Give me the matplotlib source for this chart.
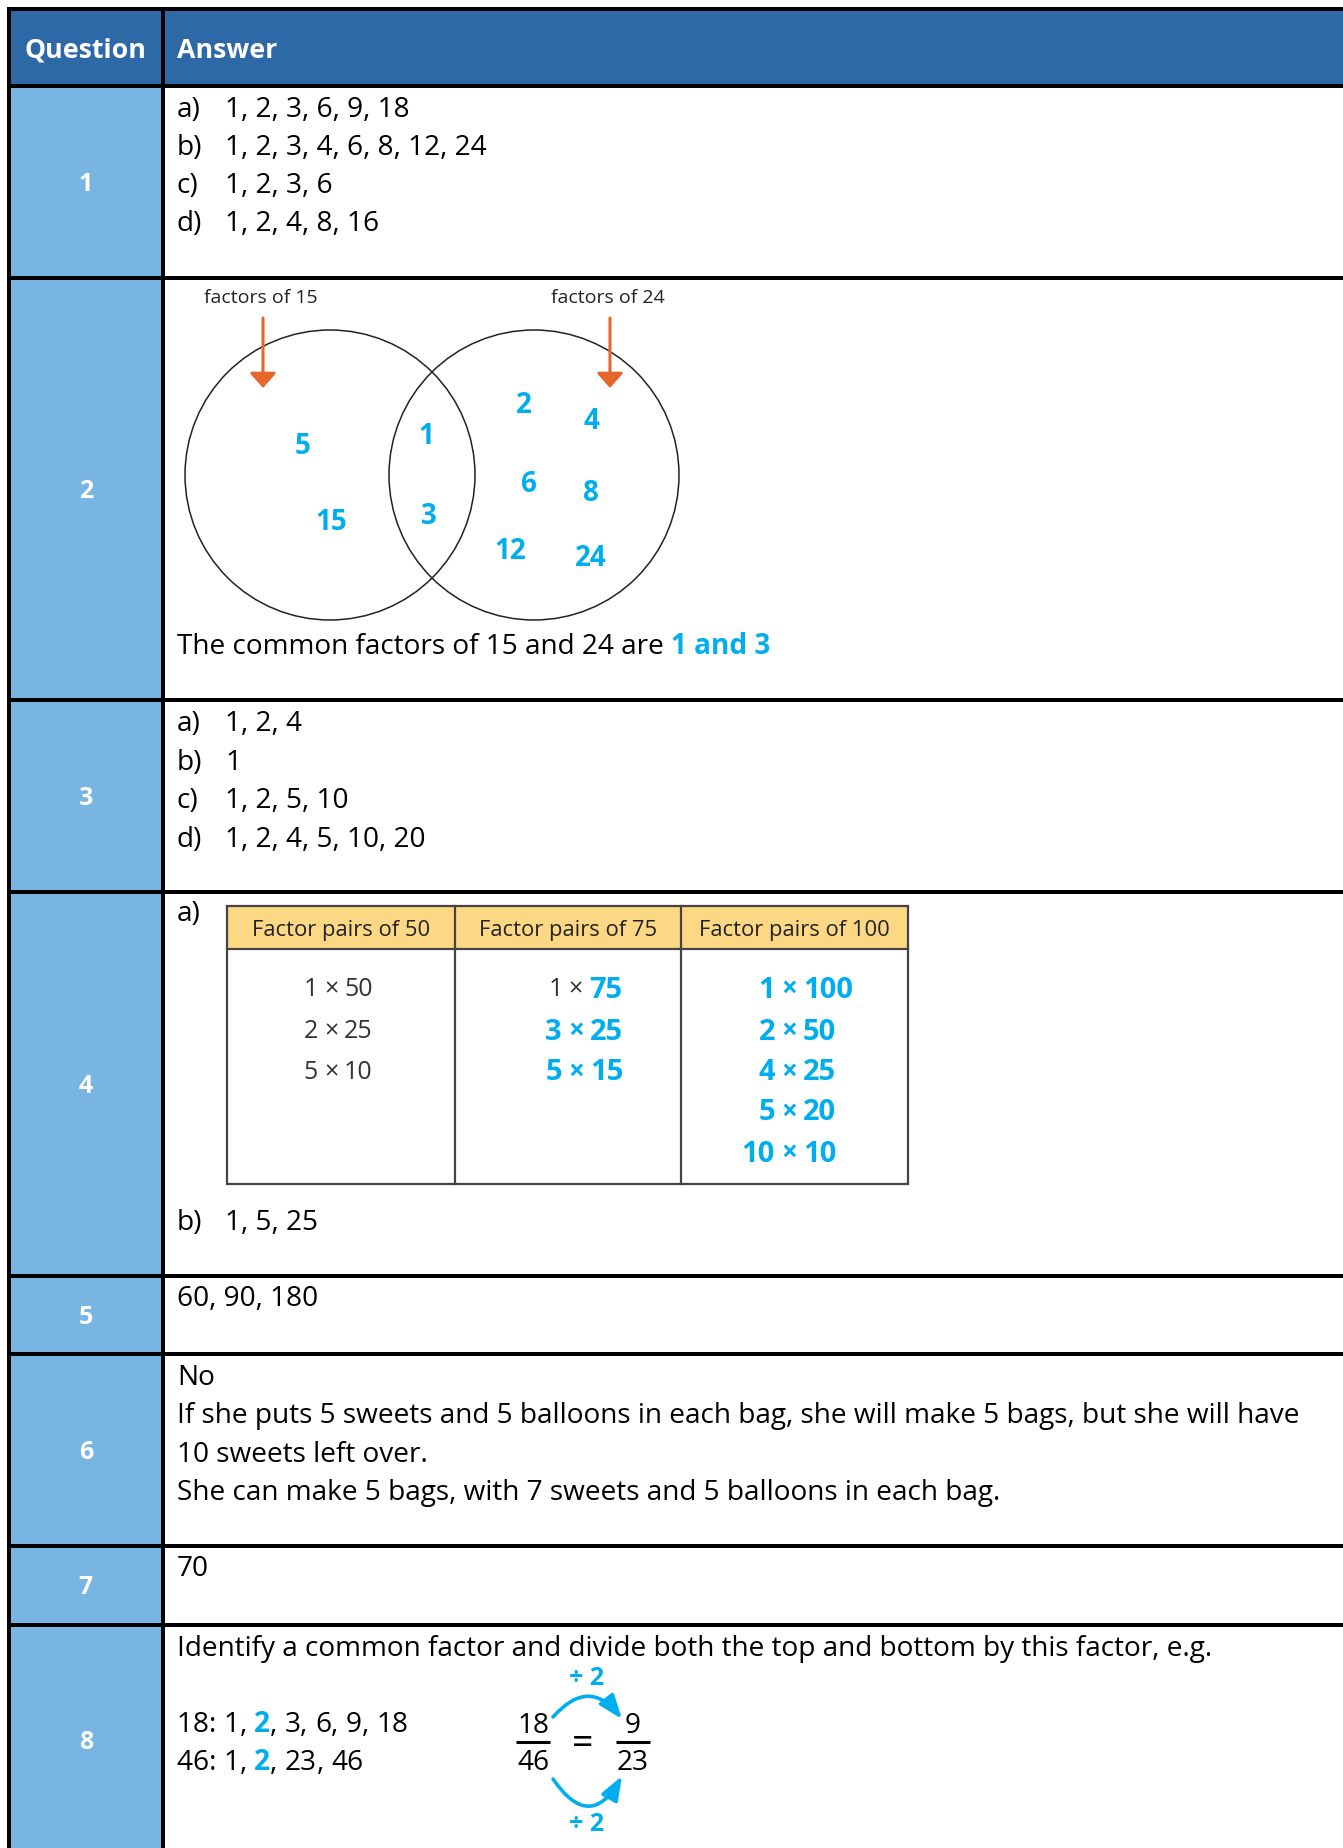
import matplotlib
matplotlib.use("Agg")
import matplotlib.pyplot as plt
from matplotlib.patches import Rectangle, Circle, FancyArrowPatch

W, H = 1343, 1848
FONT = "Open Sans"

HEADER_BLUE = "#2E69A7"
QCOL_BLUE = "#78B5E2"
CYAN = "#00AEEF"
INK = "#000000"
GREY_INK = "#333333"
ORANGE = "#E5672B"
YELLOW = "#FCD884"

# ---------------------------------------------------------------------------
# content
# ---------------------------------------------------------------------------
HEADERS = ["Question", "Answer"]
QUESTIONS = ["1", "2", "3", "4", "5", "6", "7", "8"]
PART_LABELS = ["a)", "b)", "c)", "d)"]
Q1_ANSWERS = ["1, 2, 3, 6, 9, 18", "1, 2, 3, 4, 6, 8, 12, 24", "1, 2, 3, 6", "1, 2, 4, 8, 16"]
VENN_TITLES = ["factors of 15", "factors of 24"]
VENN_ONLY_15 = ["5", "15"]
VENN_BOTH = ["1", "3"]
VENN_ONLY_24 = ["2", "4", "6", "8", "12", "24"]
Q2_SENTENCE = "The common factors of 15 and 24 are "
Q2_COMMON = "1 and 3"
Q3_ANSWERS = ["1, 2, 4", "1", "1, 2, 5, 10", "1, 2, 4, 5, 10, 20"]
PAIR_HEADERS = ["Factor pairs of 50", "Factor pairs of 75", "Factor pairs of 100"]
PAIRS_50 = [(1, 50), (2, 25), (5, 10)]
PAIRS_75 = [(1, 75), (3, 25), (5, 15)]
PAIRS_100 = [(1, 100), (2, 50), (4, 25), (5, 20), (10, 10)]
Q4B_ANSWER = "1, 5, 25"
Q5_ANSWER = "60, 90, 180"
Q6_LINES = [
    "No",
    "If she puts 5 sweets and 5 balloons in each bag, she will make 5 bags, but she will have",
    "10 sweets left over.",
    "She can make 5 bags, with 7 sweets and 5 balloons in each bag.",
]
Q7_ANSWER = "70"
Q8_INTRO = "Identify a common factor and divide both the top and bottom by this factor, e.g."
Q8_NUMBERS = [18, 46]
Q8_FACTORS = [[1, 2, 3, 6, 9, 18], [1, 2, 23, 46]]
COMMON_FACTOR = 2
FRACTION_FROM = (18, 46)
FRACTION_TO = (9, 23)

# ---------------------------------------------------------------------------
# layout (pixels, y downwards)
# ---------------------------------------------------------------------------
ROW_EDGES = [86, 278, 700, 892, 1276, 1354, 1546, 1625, 1855]
LEFT, TOP, DIV = 9, 9, 162.5
TX = 177          # answer text left
NX = 225          # answer after "a)"
LW = 4 * 0.72     # 4 px
BODY = 20.2

fig = plt.figure(figsize=(W / 100, H / 100), dpi=100)
ax = fig.add_axes([0, 0, 1, 1])
ax.set_xlim(0, W)
ax.set_ylim(H, 0)
ax.axis("off")
renderer = fig.canvas.get_renderer()


def text_w(s, size, weight="normal"):
    t = ax.text(0, 0, s + "|", fontsize=size, fontweight=weight, family=FONT)
    w1 = t.get_window_extent(renderer).width
    t.set_text("|")
    w2 = t.get_window_extent(renderer).width
    t.remove()
    return w1 - w2


def put(x, y, s, size=BODY, color=INK, weight="normal", ha="left"):
    # y is the visual centre of the digits / capitals
    base = y + 0.36 * size * 100 / 72
    ax.text(x, base, s, fontsize=size, color=color, fontweight=weight,
            family=FONT, ha=ha, va="baseline")


def runs(x, y, parts, size=BODY):
    for s, color, weight in parts:
        put(x, y, s, size, color, weight)
        x += text_w(s, size, weight)


# ---------------- table frame ---------------------------------------------
ax.add_patch(Rectangle((LEFT, TOP), W - LEFT, ROW_EDGES[0] - TOP, color=HEADER_BLUE, lw=0))
ax.add_patch(Rectangle((LEFT, ROW_EDGES[0]), DIV - LEFT, H - ROW_EDGES[0], color=QCOL_BLUE, lw=0))
for y in [TOP] + ROW_EDGES[:-1]:
    ax.plot([LEFT - 2, W], [y, y], color=INK, lw=LW, solid_capstyle="butt")
ax.plot([LEFT, LEFT], [TOP - 2, H], color=INK, lw=LW, solid_capstyle="butt")
ax.plot([DIV, DIV], [TOP, H], color=INK, lw=LW, solid_capstyle="butt")

put((LEFT + DIV) / 2, 48, HEADERS[0], 19.3, "white", "bold", ha="center")
put(TX, 48, HEADERS[1], 19.3, "white", "bold")
for q, top, bot in zip(QUESTIONS, ROW_EDGES[:-1], ROW_EDGES[1:]):
    put((LEFT + DIV) / 2, (top + bot) / 2, q, 18, "white", "bold", ha="center")

# ---------------- question 1 ----------------------------------------------
for i, (lab, ans) in enumerate(zip(PART_LABELS, Q1_ANSWERS)):
    y = 107 + i * 38
    put(TX, y, lab)
    put(NX, y, ans)

# ---------------- question 2: venn ----------------------------------------
VENN_Y, VENN_R = 475, 145
for cx in (330, 534):
    ax.add_patch(Circle((cx, VENN_Y), VENN_R, fill=False, ec="#222222", lw=1.1))
for title, ax_x in zip(VENN_TITLES, (261, 608)):
    put(ax_x, 296, title, 14, "#222222", ha="center")
    ax.add_patch(FancyArrowPatch((ax_x + 2, 318), (ax_x + 2, 388),
                                 arrowstyle="-|>,head_length=0.45,head_width=0.4",
                                 mutation_scale=20, color=ORANGE, lw=2.2,
                                 shrinkA=0, shrinkB=0))
venn_xy = {
    "5": (303, 444), "15": (331, 520), "1": (426, 434), "3": (429, 514),
    "2": (524, 403), "4": (591, 419), "6": (529, 482), "8": (591, 491),
    "12": (510, 549), "24": (591, 556),
}
for n in VENN_ONLY_15 + VENN_BOTH + VENN_ONLY_24:
    x, y = venn_xy[n]
    put(x, y, n, 20, CYAN, "bold", ha="center")
runs(TX, 644, [(Q2_SENTENCE, INK, "normal"), (Q2_COMMON, CYAN, "bold")])

# ---------------- question 3 ----------------------------------------------
for i, (lab, ans) in enumerate(zip(PART_LABELS, Q3_ANSWERS)):
    y = 721 + i * 38.5
    put(TX, y, lab)
    put(NX, y, ans)

# ---------------- question 4: factor pair table ---------------------------
put(TX, 911, PART_LABELS[0])
T_L, T_R, T_T, T_B, T_H = 227, 908, 906, 1184, 949
cols = [T_L, 455, 681, T_R]
ax.add_patch(Rectangle((T_L, T_T), T_R - T_L, T_H - T_T, color=YELLOW, lw=0))
ax.add_patch(Rectangle((T_L, T_T), T_R - T_L, T_B - T_T, fill=False, ec="#444444", lw=1.6))
ax.plot([T_L, T_R], [T_H, T_H], color="#444444", lw=1.6)
for cxl in cols[1:-1]:
    ax.plot([cxl, cxl], [T_T, T_B], color="#444444", lw=1.6)
for h, a, b in zip(PAIR_HEADERS, cols[:-1], cols[1:]):
    put((a + b) / 2, 928, h, 15.8, "#222222", ha="center")

times_x = [331, 576, 789]
row_y = [987, 1029, 1070, 1110, 1151]
for j, pairs in enumerate([PAIRS_50, PAIRS_75, PAIRS_100]):
    for i, (p, q) in enumerate(pairs):
        y = row_y[i]
        if j == 0:
            cl, cr, wl, wr = GREY_INK, GREY_INK, "normal", "normal"
        elif j == 1 and i == 0:
            cl, cr, wl, wr = GREY_INK, CYAN, "normal", "bold"
        else:
            cl, cr, wl, wr = CYAN, CYAN, "bold", "bold"
        gap = 14 if wl == "bold" else 13
        put(times_x[j] - gap, y, str(p), 21 if wl == "bold" else 18, cl, wl, ha="right")
        put(times_x[j], y, "\u00d7", 20 if wl == "bold" else 18, cl, wl, ha="center")
        put(times_x[j] + gap, y, str(q), 21 if wr == "bold" else 18, cr, wr)

put(TX, 1220, PART_LABELS[1])
put(NX, 1220, Q4B_ANSWER)

# ---------------- questions 5-7 -------------------------------------------
put(TX, 1296, Q5_ANSWER)
for i, line in enumerate(Q6_LINES):
    put(TX, 1375 + i * 38.3, line)
put(TX, 1566, Q7_ANSWER)

# ---------------- question 8 ----------------------------------------------
put(TX, 1646, Q8_INTRO)
for i, (n, facs) in enumerate(zip(Q8_NUMBERS, Q8_FACTORS)):
    parts = [(f"{n}: ", INK, "normal")]
    for k, f in enumerate(facs):
        if k:
            parts.append((", ", INK, "normal"))
        if f == COMMON_FACTOR:
            parts.append((str(f), CYAN, "bold"))
        else:
            parts.append((str(f), INK, "normal"))
    runs(TX, 1722 + i * 38, parts)

for (num, den), fx in zip([FRACTION_FROM, FRACTION_TO], (533, 633)):
    put(fx, 1723, str(num), ha="center")
    put(fx, 1760, str(den), ha="center")
    ax.plot([fx - 17, fx + 17], [1742, 1742], color=INK, lw=2.2, solid_capstyle="butt")
put(583, 1741, "=", 27, ha="center")

for (y0, y1, rad, ly) in [(1717, 1719, -0.6, 1676), (1779, 1776, 0.8, 1822)]:
    ax.add_patch(FancyArrowPatch((553, y0), (622, y1),
                                 connectionstyle=f"arc3,rad={rad}",
                                 arrowstyle="-|>,head_length=0.8,head_width=0.3",
                                 mutation_scale=18, color=CYAN, lw=2.6,
                                 shrinkA=0, shrinkB=0))
    put(587, ly, "\u00f7 2", 18, CYAN, "bold", ha="center")

fig.savefig("out.png", dpi=100, facecolor="white")
